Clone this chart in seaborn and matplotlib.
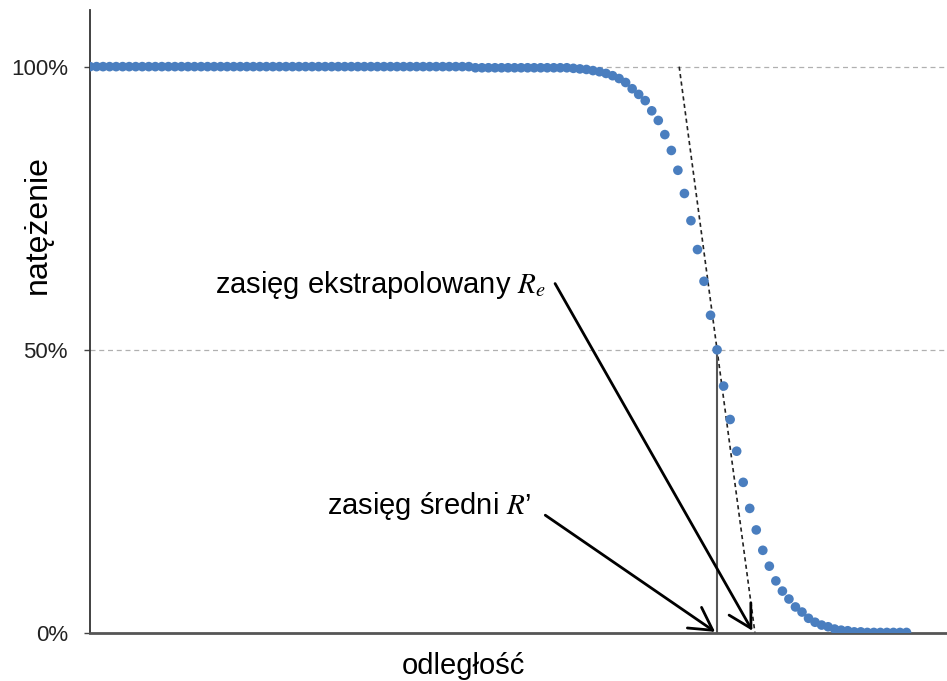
import matplotlib
matplotlib.use("Agg")
import matplotlib.pyplot as plt
import seaborn as sns
import numpy as np
import pandas as pd

# ---- data ----
intensity = [
    1.000, 1.000, 1.000, 1.000, 1.000, 1.000, 1.000, 1.000, 1.000, 1.000,
    1.000, 1.000, 1.000, 1.000, 1.000, 1.000, 1.000, 1.000, 1.000, 1.000,
    1.000, 1.000, 1.000, 1.000, 1.000, 1.000, 1.000, 1.000, 1.000, 1.000,
    1.000, 1.000, 1.000, 1.000, 1.000, 1.000, 1.000, 1.000, 1.000, 1.000,
    1.000, 1.000, 1.000, 1.000, 1.000, 1.000, 1.000, 1.000, 1.000, 1.000,
    1.000, 1.000, 1.000, 1.000, 1.000, 1.000, 1.000, 1.000, 1.000, 0.998,
    0.998, 0.998, 0.998, 0.998, 0.998, 0.998, 0.998, 0.998, 0.998, 0.998,
    0.998, 0.998, 0.998, 0.998, 0.997, 0.996, 0.995, 0.993, 0.991, 0.988,
    0.984, 0.979, 0.972, 0.961, 0.951, 0.940, 0.922, 0.905, 0.880, 0.852,
    0.817, 0.776, 0.728, 0.677, 0.621, 0.561, 0.500, 0.436, 0.377, 0.321,
    0.266, 0.220, 0.182, 0.146, 0.118, 0.092, 0.074, 0.060, 0.046, 0.037,
    0.026, 0.019, 0.014, 0.011, 0.007, 0.005, 0.004, 0.002, 0.002, 0.001,
    0.001, 0.001, 0.001, 0.001, 0.001, 0.001,
]
distance = list(range(len(intensity)))

r_mean = 96.0       # zasięg średni R' (50 % point)
r_ext = 101.8       # zasięg ekstrapolowany R_e (tangent hits 0)
ref_levels = [0.5, 1.0]
ytick_vals = [0.0, 0.5, 1.0]
ytick_labels = ["0%", "50%", "100%"]

label_ext = "zasięg ekstrapolowany $R_e$"
label_mean = "zasięg średni $R$’"
ext_text_pos = (19.1, 0.615)
ext_arrow_from = (71.2, 0.617)
mean_text_pos = (36.3, 0.224)
mean_arrow_from = (69.7, 0.208)

df = pd.DataFrame({"distance": distance, "intensity": intensity})

# ---- style ----
sns.set_theme(style="white")
plt.rcParams["font.family"] = ["Liberation Sans", "DejaVu Sans"]
plt.rcParams["mathtext.fontset"] = "stix"

fig = plt.figure(figsize=(9.47, 6.81), dpi=100)
ax = fig.add_axes([90 / 947, 48 / 681, 857 / 947, 623 / 681])

# reference dashed gridlines
for lv in ref_levels:
    ax.axhline(lv, color="#b0b0b0", lw=0.9, ls=(0, (4, 3)), zorder=1)

# tangent (extrapolation) line through the 50% point
slope = 0.5 / (r_ext - r_mean)
x_top = r_ext - 1.0 / slope
ax.plot([x_top, r_ext], [1.0, 0.0], color="#222222", lw=1.2, ls=(0, (2.5, 2)), zorder=2)

# vertical line at mean range
ax.plot([r_mean, r_mean], [0.0, 0.5], color="#555555", lw=1.5, zorder=2)

sns.scatterplot(data=df, x="distance", y="intensity", ax=ax, color="#4a7ebf",
                s=48, edgecolor="none", zorder=3, legend=False)

# annotations
ax.text(*ext_text_pos, label_ext, fontsize=21, va="center", ha="left", color="black")
ax.annotate("", xy=(r_ext - 0.4, 0.004), xytext=ext_arrow_from,
            arrowprops=dict(arrowstyle="->,head_length=0.8,head_width=0.45",
                            lw=2, color="black", mutation_scale=20, shrinkA=0, shrinkB=0))
ax.text(*mean_text_pos, label_mean, fontsize=21, va="center", ha="left", color="black")
ax.annotate("", xy=(r_mean - 0.3, 0.002), xytext=mean_arrow_from,
            arrowprops=dict(arrowstyle="->,head_length=0.8,head_width=0.45",
                            lw=2, color="black", mutation_scale=20, shrinkA=0, shrinkB=0))

ax.set_xlim(0, 131.2)
ax.set_ylim(0, 1.1)
ax.set_xticks([])
ax.set_yticks(ytick_vals)
ax.set_yticklabels(ytick_labels, fontsize=16, color="#222222")
ax.tick_params(axis="y", left=True, length=4, width=1, pad=12, color="#444444")

ax.set_xlabel("odległość", fontsize=21, color="black", va="center")
ax.xaxis.set_label_coords(0.436, -0.053)
ax.set_ylabel("natężenie", fontsize=23, color="black", va="center")
ax.yaxis.set_label_coords(-0.061, 0.655)

for side in ["top", "right"]:
    ax.spines[side].set_visible(False)
ax.spines["left"].set_color("#333333")
ax.spines["left"].set_linewidth(1.3)
ax.spines["bottom"].set_color("#555555")
ax.spines["bottom"].set_linewidth(2)

fig.savefig("out.png", dpi=100)
